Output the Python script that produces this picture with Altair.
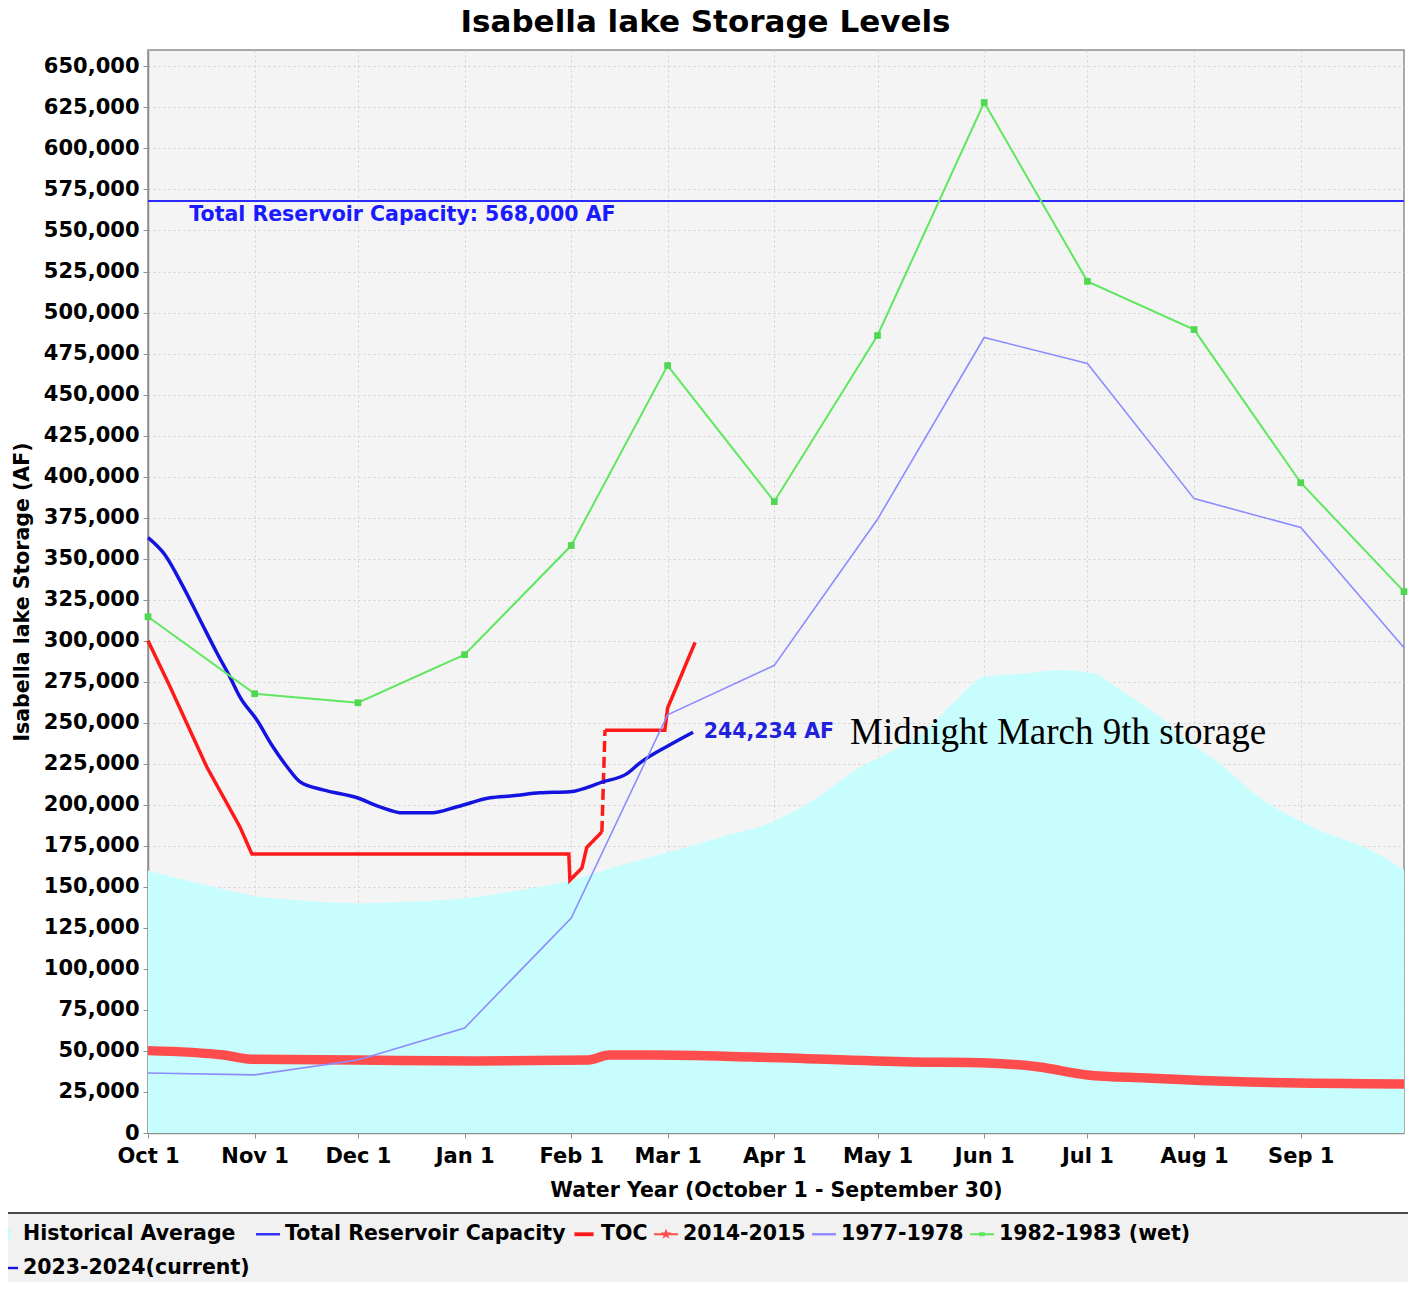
import json
import altair as alt
import pandas as pd

# ---------------- data ----------------
month_days = [0, 31, 61, 92, 123, 151, 182, 212, 243, 273, 304, 335]
month_labels = ["Oct 1", "Nov 1", "Dec 1", "Jan 1", "Feb 1", "Mar 1",
                "Apr 1", "May 1", "Jun 1", "Jul 1", "Aug 1", "Sep 1"]
y_ticks = list(range(0, 650001, 25000))

hist_days = [0, 15, 31, 46, 61, 76, 92, 107, 123, 137, 151, 166, 182, 195, 207,
             217, 226, 235, 243, 255, 265, 274, 284, 294, 304, 309, 324, 335,
             340, 355, 365]
hist_vals = [160000, 152000, 144500, 141500, 140000, 141000, 143000, 147500,
             154000, 163000, 171000, 180000, 190000, 205000, 223000, 233500,
             245700, 264000, 278000, 280000, 282000, 280500, 268000, 253700,
             236000, 229000, 203000, 190000, 184800, 172600, 160500]

y1415_days = [0, 22, 30, 61, 95, 128, 134, 146, 176, 222, 244, 259, 273, 290, 320, 365]
y1415_vals = [50200, 47500, 45000, 44500, 43900, 44500, 47500, 47500, 46300,
              43300, 42700, 40200, 35400, 33500, 31100, 29900]

y7778_days = month_days + [365]
y7778_vals = [36600, 35400, 44500, 64000, 131000, 254900, 285000, 374000,
              484800, 469000, 386600, 369000, 295700]

y8283_days = month_days + [365]
y8283_vals = [314600, 267700, 262200, 291500, 358000, 467700, 384800, 486000,
              628000, 519000, 489600, 396300, 329900]

toc_days = [0, 6.4, 17.1, 26.7, 30.2, 122.3, 122.6, 126.1, 127.5, 131.9,
            131.9, 132.8,
            132.8, 150.2, 151.0, 153.6, 156.5, 159.0]
toc_vals = [300000, 272000, 223000, 186600, 170000, 170000, 154000, 161500,
            174000, 183500,
            183500, 245500,
            245500, 245500, 259000, 272000, 286600, 299000]
toc_seg = ["a"] * 10 + ["b"] * 2 + ["c"] * 6

cur_days = [0, 4.9, 10.2, 15.1, 20, 23.8, 26.7, 31.6, 36.3, 40.4, 44.2, 50.9,
            60.8, 67.4, 74.1, 82, 89.8, 99.4, 106, 113.9, 122.6, 132.2, 139.2,
            143, 151.7, 158.4]
cur_vals = [362800, 352400, 333000, 312800, 292700, 278000, 265800, 251800,
            235400, 223200, 214000, 209100, 204300, 198800, 195100, 195100,
            198800, 204300, 205500, 207300, 208000, 214000, 219000, 225600,
            236600, 244234]

capacity = 568000

series_names = ["Historical Average", "Total Reservoir Capacity", "TOC",
                "2014-2015", "1977-1978", "1982-1983 (wet)", "2023-2024(current)"]
series_colors = ["#c8fdfd", "#2a2aff", "#ff1a1a", "#ff4d4d", "#8c8cff",
                 "#5fe85f", "#1414e0"]

notes_text = ["Total Reservoir Capacity: 568,000 AF", "244,234 AF"]
notes_days = [12, 161.5]
notes_vals = [559500, 244500]
notes_colors = ["#1a1aff", "#2222dd"]

remark_text = ["Midnight March 9th storage"]
remark_days = [204]
remark_vals = [244000]

FONT = "DejaVu Sans"

# ---------------- frames ----------------
hist_df = pd.DataFrame({"day": hist_days, "value": hist_vals})
y1415_df = pd.DataFrame({"day": y1415_days, "value": y1415_vals})
y7778_df = pd.DataFrame({"day": y7778_days, "value": y7778_vals})
y8283_df = pd.DataFrame({"day": y8283_days, "value": y8283_vals})
toc_df = pd.DataFrame({"day": toc_days, "value": toc_vals, "seg": toc_seg,
                       "i": list(range(len(toc_days)))})
cur_df = pd.DataFrame({"day": cur_days, "value": cur_vals,
                       "i": list(range(len(cur_days)))})
cap_df = pd.DataFrame({"value": [capacity]})
notes_df = pd.DataFrame({"day": notes_days, "value": notes_vals,
                         "text": notes_text, "c": notes_colors})
remark_df = pd.DataFrame({"day": remark_days, "value": remark_vals,
                          "text": remark_text})
legend_df = pd.DataFrame({"series": series_names,
                          "day": [None] * len(series_names),
                          "value": [None] * len(series_names)})
legend_box_df = pd.DataFrame({"k": ["box"]})

label_expr = (f"{json.dumps(month_labels)}"
              f"[indexof({json.dumps(month_days)}, datum.value)]")

x_scale = alt.Scale(domain=[0, 365], nice=False, zero=False)
y_scale = alt.Scale(domain=[0, 660000], nice=False)

x_axis = alt.Axis(values=month_days, labelExpr=label_expr,
                  title="Water Year (October 1 - September 30)",
                  labelFlush=False, labelOverlap=False,
                  labelPadding=7, titlePadding=14)
y_axis = alt.Axis(values=y_ticks, format=",d",
                  title="Isabella lake Storage (AF)",
                  labelFlush=False, labelOverlap=False,
                  labelPadding=4, titlePadding=11)

X = alt.X("day:Q", scale=x_scale, axis=x_axis)
Y = alt.Y("value:Q", scale=y_scale, axis=y_axis)

# legend background panel (decoration beneath the legend)
legend_box = alt.Chart(legend_box_df).mark_rect(
    fill="#f1f1f1", stroke="#4a4a4a", strokeWidth=2).encode(
    x=alt.value(-160), x2=alt.value(1275), y=alt.value(1163), y2=alt.value(1240))

hist = alt.Chart(hist_df).mark_area(color="#c8fdfd", interpolate="monotone").encode(
    x=X, y=Y)

band = alt.Chart(y1415_df).mark_line(color="#ff4d4d", strokeWidth=9.5,
                                     interpolate="monotone").encode(x=X, y=Y)

cap = alt.Chart(cap_df).mark_rule(color="#2a2aff", strokeWidth=2).encode(
    y=alt.Y("value:Q", scale=y_scale, axis=y_axis))

toc = alt.Chart(toc_df).mark_line(color="#ff1a1a", strokeWidth=3.5).encode(
    x=X, y=Y, detail="seg:N", order="i:Q",
    strokeDash=alt.StrokeDash("seg:N", legend=None,
                              scale=alt.Scale(domain=["a", "b", "c"],
                                              range=[[1, 0], [11, 5], [1, 0]])))

cur = alt.Chart(cur_df).mark_line(color="#1414e0", strokeWidth=3.5,
                                  interpolate="monotone").encode(
    x=X, y=Y, order="i:Q")

l7778 = alt.Chart(y7778_df).mark_line(color="#8c8cff", strokeWidth=1.6).encode(
    x=X, y=Y)

l8283 = alt.Chart(y8283_df).mark_line(color="#5fe85f", strokeWidth=2).encode(
    x=X, y=Y)
p8283 = alt.Chart(y8283_df).mark_point(color="#4fd84f", shape="square",
                                       filled=True, size=45, opacity=1).encode(
    x=X, y=Y)

notes = alt.Chart(notes_df).mark_text(align="left", baseline="middle",
                                      font=FONT, fontWeight="bold",
                                      fontSize=20.5).encode(
    x=X, y=Y, text="text:N", color=alt.Color("c:N", scale=None))

remark = alt.Chart(remark_df).mark_text(align="left", baseline="middle",
                                        font="Liberation Serif", fontSize=37,
                                        color="black").encode(
    x=X, y=Y, text="text:N")

line_p = "M-1,-0.1H1V0.1H-1Z"
thick_p = "M-0.8,-0.16H0.8V0.16H-0.8Z"
star_p = ("M-1,-0.08H1V0.08H-1Z M0,-0.45L0.13,-0.14L0.45,-0.14L0.19,0.06"
          "L0.29,0.38L0,0.19L-0.29,0.38L-0.19,0.06L-0.45,-0.14L-0.13,-0.14Z")
green_p = "M-1,-0.08H1V0.08H-1Z M-0.24,-0.17H0.24V0.17H-0.24Z"
square_p = "M-0.5,-0.45H0.4V0.45H-0.5Z"
legend_shapes = [square_p, line_p, thick_p, star_p, line_p, green_p, line_p]

legend_layer = alt.Chart(legend_df).mark_point(filled=True, clip=True,
                                               opacity=1, strokeWidth=0).encode(
    x=X, y=Y,
    color=alt.Color("series:N",
                    scale=alt.Scale(domain=series_names, range=series_colors),
                    legend=alt.Legend(
                        title=None, orient="none", legendX=-156, legendY=1170,
                        direction="horizontal", columns=6,
                        labelFont=FONT, labelFontWeight="bold",
                        labelFontSize=20.5, labelColor="black",
                        labelLimit=400, symbolSize=576, symbolStrokeWidth=0,
                        symbolOpacity=1, labelOffset=5, columnPadding=6,
                        rowPadding=11, padding=2)),
    shape=alt.Shape("series:N",
                    scale=alt.Scale(domain=series_names, range=legend_shapes),
                    legend=alt.Legend(
                        title=None, orient="none", legendX=-156, legendY=1170,
                        direction="horizontal", columns=6)))

chart = alt.layer(legend_box, hist, band, cap, toc, cur, l7778, l8283, p8283,
                  notes, remark, legend_layer).properties(
    width=1256, height=1083,
    autosize=alt.AutoSizeParams(type="none"),
    padding={"left": 140, "top": 42, "right": 4, "bottom": 149},
    title=alt.Title("Isabella lake Storage Levels", font=FONT,
                    fontWeight="bold", fontSize=31, color="black",
                    anchor="middle", frame="bounds", offset=11),
    background="white",
).configure_view(
    fill="#f4f4f4", stroke="#8f8f8f", strokeWidth=1.5
).configure_axis(
    labelFont=FONT, labelFontWeight="bold", labelFontSize=21,
    labelColor="black", titleFont=FONT, titleFontWeight="bold",
    titleFontSize=20.5, titleColor="black",
    grid=True, gridColor="#d2d2d2", gridDash=[2, 3], gridWidth=1,
    tickSize=5, tickColor="#8f8f8f", domainColor="#8f8f8f", domainWidth=1.5
)

chart.save("out.html", embed_options={"renderer": "svg", "actions": False})
